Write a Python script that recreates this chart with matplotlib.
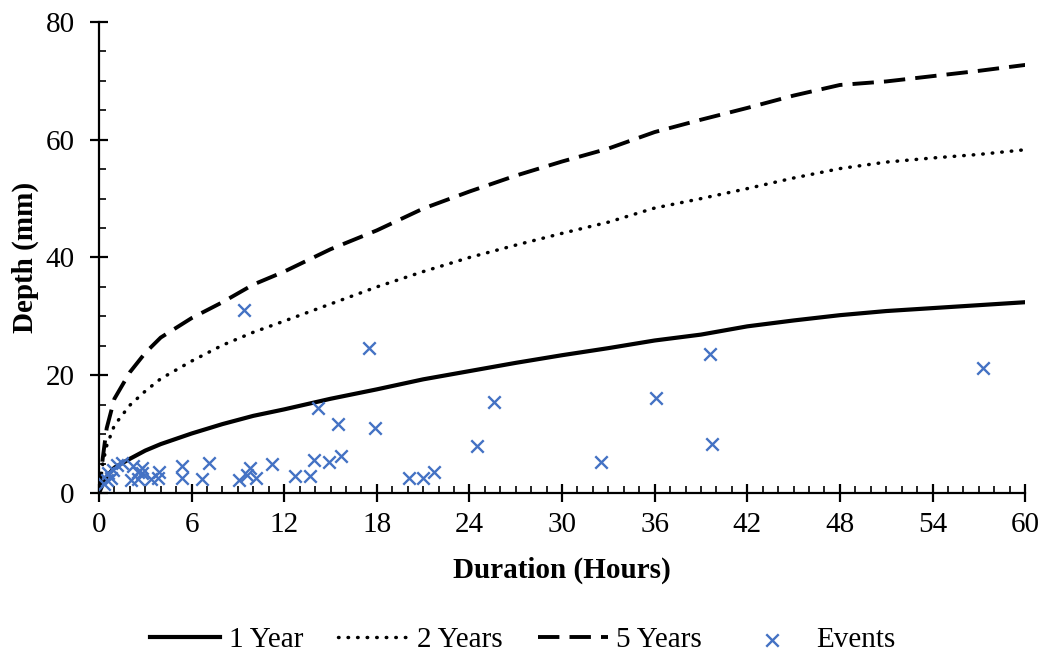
import matplotlib
matplotlib.use("Agg")
import matplotlib.pyplot as plt
from matplotlib.ticker import MultipleLocator

plt.rcParams['font.family'] = ['Liberation Serif', 'DejaVu Serif']

# Depth-duration curves for each return period
duration = [0, 0.25, 0.5, 1, 2, 3, 4, 6, 8, 10, 12, 15, 18, 21, 24, 27, 30,
            33, 36, 39, 42, 45, 48, 51, 54, 57, 60]
depth_1yr = [0, 1.5, 2.8, 4.3, 5.8, 7.2, 8.3, 10.1, 11.7, 13.1, 14.2, 16.0,
             17.6, 19.3, 20.7, 22.1, 23.4, 24.6, 25.9, 26.9, 28.3, 29.3,
             30.2, 30.9, 31.4, 31.9, 32.4]
depth_2yr = [0, 5.0, 8.0, 11.5, 14.9, 17.3, 19.4, 22.4, 25.1, 27.3, 29.2,
             32.1, 35.0, 37.6, 40.0, 42.1, 44.1, 46.0, 48.4, 50.0, 51.7,
             53.5, 55.1, 56.2, 56.9, 57.5, 58.3]
depth_5yr = [0, 6.0, 11.0, 16.0, 20.5, 23.8, 26.4, 29.7, 32.4, 35.4, 37.6,
             41.4, 44.6, 48.3, 51.2, 53.9, 56.3, 58.5, 61.3, 63.4, 65.4,
             67.5, 69.3, 69.9, 70.8, 71.7, 72.7]

# Observed rainfall events
event_duration = [0.3, 0.5, 0.6, 0.8, 0.9, 1.2, 1.5, 2.1, 2.2, 2.5, 2.5,
                  2.8, 2.8, 3.4, 3.8, 3.9, 5.4, 5.4, 6.7, 7.1, 9.1, 9.4,
                  9.6, 9.8, 10.2, 11.2, 12.7, 13.7, 13.9, 14.2, 14.9, 15.5,
                  15.7, 17.5, 17.9, 20.1, 21.0, 21.7, 24.5, 25.6, 32.5,
                  36.1, 39.6, 39.7, 57.3]
event_depth = [1.5, 2.2, 3.4, 2.5, 3.9, 4.8, 5.1, 2.2, 4.6, 3.6, 2.4,
               4.2, 3.4, 2.4, 2.5, 3.6, 4.6, 2.5, 2.4, 5.1, 2.2, 31.1,
               3.1, 4.2, 2.5, 4.9, 2.9, 2.9, 5.6, 14.4, 5.3, 11.7,
               6.3, 24.6, 11.0, 2.5, 2.5, 3.6, 8.0, 15.4, 5.3,
               16.1, 23.6, 8.3, 21.2]

fig = plt.figure(figsize=(10.45, 6.58), dpi=100)
ax = fig.add_axes([0.0947, 0.2508, 0.8863, 0.7158])

ax.plot(duration, depth_1yr, color='black', lw=3.0, ls='-', label='1 Year')
ax.plot(duration, depth_2yr, color='black', lw=2.5, ls=(0, (0.15, 2.6)),
        dash_capstyle='round', label='2 Years')
ax.plot(duration, depth_5yr, color='black', lw=2.8, ls=(0, (5.5, 2.6)),
        label='5 Years')
ax.scatter(event_duration, event_depth, marker='x', s=80, linewidths=1.7,
           color='#4472C4', label='Events', zorder=3)

ax.set_xlim(0, 60)
ax.set_ylim(0, 80)
ax.xaxis.set_major_locator(MultipleLocator(6))
ax.xaxis.set_minor_locator(MultipleLocator(1))
ax.yaxis.set_major_locator(MultipleLocator(20))
ax.yaxis.set_minor_locator(MultipleLocator(5))

for side in ('top', 'right'):
    ax.spines[side].set_visible(False)
for side in ('left', 'bottom'):
    ax.spines[side].set_linewidth(1.6)

ax.tick_params(which='major', direction='inout', length=13, width=1.6,
               labelsize=21)
ax.tick_params(which='minor', direction='in', length=5, width=1.2)
ax.tick_params(axis='x', which='major', pad=7)
ax.tick_params(axis='y', which='major', pad=11)

ax.set_xlabel('Duration (Hours)', fontsize=21, fontweight='bold', labelpad=14)
ax.set_ylabel('Depth (mm)', fontsize=21, fontweight='bold', labelpad=5)

fig.legend(loc='center', bbox_to_anchor=(0.5, 0.027), ncol=4,
           frameon=False, fontsize=21, handlelength=2.4, columnspacing=1.2,
           handletextpad=0.3)

fig.savefig('out.png', dpi=100)
